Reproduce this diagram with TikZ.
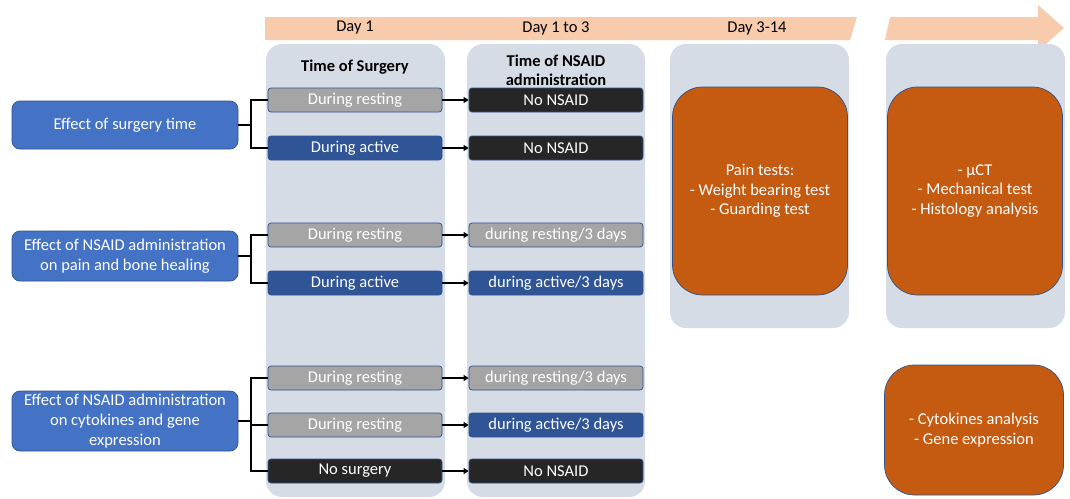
\documentclass[tikz,border=0pt]{standalone}
\usepackage{fontspec}
\setmainfont{Carlito}
\usepackage{tikz}
\usetikzlibrary{positioning}
\usetikzlibrary{arrows.meta}
\definecolor{bandorange}{HTML}{F8CBAD}
\definecolor{colbg}{HTML}{D6DCE5}
\definecolor{effblue}{HTML}{4472C4}
\definecolor{actblue}{HTML}{2F5597}
\definecolor{restgray}{HTML}{A5A5A5}
\definecolor{noneblack}{HTML}{262626}
\definecolor{testorange}{HTML}{C55A11}
\definecolor{edge}{HTML}{2F528F}

\begin{document}
\begin{tikzpicture}[x=1pt, y=-1pt, line width=1pt,
    every node/.style={font=\fontsize{16.5}{20}\selectfont},
    col/.style={fill=colbg, rounded corners=16pt},
    effbox/.style={draw=edge, line width=0.7pt, fill=effblue, text=white,
      rounded corners=8pt, minimum width=226pt, align=center, inner sep=2pt},
    stepbox/.style={draw=edge, line width=0.7pt, text=white, rounded corners=3pt,
      minimum width=174pt, minimum height=24pt, inner sep=0pt},
    rest/.style={stepbox, fill=restgray},
    act/.style={stepbox, fill=actblue},
    none/.style={stepbox, fill=noneblack},
    testbox/.style={draw=edge, line width=0.7pt, fill=testorange, text=white,
      rounded corners=30pt, minimum width=175pt, align=center,
      font=\fontsize{16.5}{19.5}\selectfont},
    head/.style={font=\bfseries\fontsize{16.5}{19}\selectfont, align=center},
    conn/.style={line width=1.8pt},
    arr/.style={line width=1.8pt, -{Triangle[length=5pt,width=6pt]}}]

    \useasboundingbox (0,0) rectangle (1070,498);

    % Time line
    \fill[bandorange] (265,17) -- (857,17) -- (850,40) -- (265,40) -- cycle;
    \fill[bandorange] (890,17) -- (1038,17) -- (1038,5) -- (1064,28)
        -- (1038,51) -- (1038,40) -- (885,40) -- cycle;
    \node (day1) at (355,28) {Day 1};
    \node (day13) at (556,28) {Day 1 to 3};
    \node (day314) at (757,28) {Day 3-14};

    % Columns
    \fill[col] (266,44) rectangle (445,497);
    \fill[col] (467,44) rectangle (645,497);
    \fill[col] (670,44) rectangle (849,328);
    \fill[col] (886,44) rectangle (1065,328);

    \node[head] (hsurg) at (355,67) {Time of Surgery};
    \node[head] (hnsaid) at (556,70) {Time of NSAID\\administration};

    % Aims
    \node[effbox, minimum height=48pt] (eff1) at (125,125) {Effect of surgery time};
    \node[effbox, minimum height=50pt] (eff2) at (125,256)
        {Effect of NSAID administration\\on pain and bone healing};
    \node[effbox, minimum height=60pt] (eff3) at (125,421)
        {Effect of NSAID administration\\on cytokines and gene\\expression};

    % Surgery
    \node[rest] (s1) at (355,100) {During resting};
    \node[act]  (s2) at (355,148) {During active};
    \node[rest] (s3) at (355,235) {During resting};
    \node[act]  (s4) at (355,283) {During active};
    \node[rest] (s5) at (355,378) {During resting};
    \node[rest] (s6) at (355,425) {During resting};
    \node[none] (s7) at (355,471) {No surgery};

    % NSAID
    \node[none] (n1) at (556,100) {No NSAID};
    \node[none] (n2) at (556,148) {No NSAID};
    \node[rest] (n3) at (556,235) {during resting/3 days};
    \node[act]  (n4) at (556,283) {during active/3 days};
    \node[rest] (n5) at (556,378) {during resting/3 days};
    \node[act]  (n6) at (556,425) {during active/3 days};
    \node[none] (n7) at (556,471) {No NSAID};

    % Outcomes
    \node[testbox, minimum height=208pt] (pain) at (760,191)
        {Pain tests:\\- Weight bearing test\\- Guarding test};
    \node[testbox, minimum height=208pt] (bone) at (975,191)
        {- µCT\\- Mechanical test\\- Histology analysis};
    \node[testbox, minimum width=179pt, minimum height=130pt] (cyto) at (974,430)
        {- Cytokines analysis\\- Gene expression};

    % Branches
    \draw[conn] (eff1.east) -- ++(13,0) coordinate (j1);
    \draw[conn] (j1) |- (s1.west);
    \draw[conn] (j1) |- (s2.west);
    \draw[conn] (eff2.east) -- ++(13,0) coordinate (j2);
    \draw[conn] (j2) |- (s3.west);
    \draw[conn] (j2) |- (s4.west);
    \draw[conn] (eff3.east) -- ++(13,0) coordinate (j3);
    \draw[conn] (j3) |- (s5.west);
    \draw[conn] (j3) |- (s6.west);
    \draw[conn] (j3) |- (s7.west);

    \foreach \i in {1,...,7}
        \draw[arr] (s\i.east) -- (n\i.west);

\end{tikzpicture}
\end{document}
